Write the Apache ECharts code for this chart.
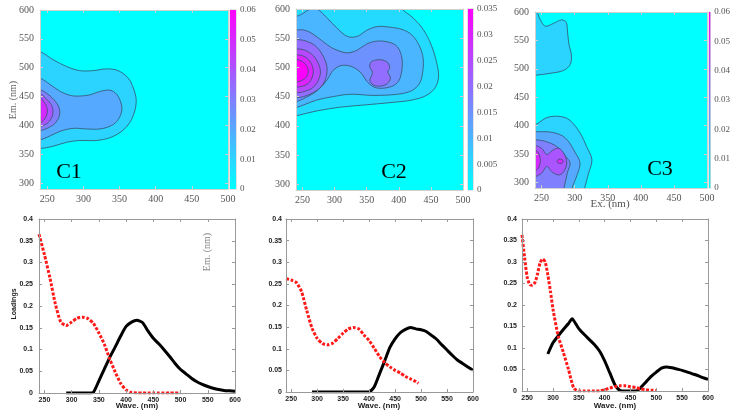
<!DOCTYPE html>
<html><head><meta charset="utf-8">
<script src="https://cdn.jsdelivr.net/npm/echarts@6/dist/echarts.min.js"></script>
<style>html,body{margin:0;padding:0;background:#fff}#c{width:730px;height:410px}</style>
</head><body><div id="c"></div>
<script>
// ---------- tick labels ----------
const exTicks = [250,300,350,400,450,500];
const emTicks = [300,350,400,450,500,550,600];
const waveTicks = [250,300,350,400,450,500,550,600];

// ---------- EEM contours: [Ex nm, Em nm] outlines, outer to inner ----------
const c1Levels = [0.01,0.02,0.03,0.04,0.05];
const c1L1 = [[230,528],[240,528],[258,514],[277,502],[295,495],[314,495],[332,498],[348,495],[362,482],[369,465],[373,445],[371,425],[364,405],[353,390],[337,379],[318,374],[295,374],[277,371],[258,364],[240,360],[230,360]];
const c1L2 = [[230,482],[240,482],[254,471],[268,459],[282,452],[295,451],[309,453],[323,459],[337,461],[346,454],[352,439],[353,425],[348,410],[339,400],[323,394],[304,394],[286,395],[268,390],[254,382],[240,375],[230,375]];
const c1L3 = [[230,462],[240,462],[250,455],[259,445],[266,432],[267,418],[261,404],[250,395],[240,391],[230,391]];
const c1L4 = [[230,455],[240,455],[248,447],[255,437],[258,426],[256,413],[249,403],[240,398],[230,398]];
const c1L5 = [[230,448],[240,448],[246,440],[250,429],[249,417],[245,409],[240,405],[230,405]];

const c2Levels = [0.005,0.01,0.015,0.02,0.02,0.025,0.03,0.035];
const c2L1 = [[230,612],[400,612],[405,600],[422,585],[438,565],[451,537],[459,508],[462,485],[457,466],[443,452],[420,444],[390,440],[350,436],[310,432],[275,426],[255,421],[240,417],[230,415]];
const c2L2 = [[230,585],[240,587],[250,592],[260,599],[268,602],[277,597],[289,584],[304,567],[320,553],[335,553],[351,564],[367,570],[385,569],[405,565],[420,556],[432,537],[438,515],[437,490],[432,472],[420,460],[398,454],[360,452],[325,454],[298,450],[272,444],[255,437],[240,431],[230,429]];
const c2L3 = [[230,564],[240,564],[252,564],[265,558],[280,546],[295,534],[310,527],[322,525],[336,530],[350,540],[366,545],[385,543],[398,535],[405,515],[404,490],[398,474],[385,466],[365,465],[352,474],[340,492],[325,502],[310,503],[298,495],[288,478],[275,462],[260,451],[240,441],[230,440]];
const c2L4a = [[230,548],[240,548],[256,545],[270,537],[281,522],[288,502],[287,484],[280,468],[267,457],[252,450],[240,448],[230,448]];
const c2L4b = [[356,508],[362,512],[372,513],[382,509],[386,500],[383,492],[387,482],[382,472],[372,468],[360,470],[355,478],[359,491],[355,500]];
const c2L5 = [[230,532],[240,532],[255,529],[267,520],[275,506],[278,492],[275,478],[267,466],[254,459],[240,456],[230,456]];
const c2L6 = [[230,522],[240,522],[254,518],[263,508],[267,494],[264,480],[256,470],[240,466],[230,466]];
const c2L7 = [[230,514],[240,514],[250,510],[257,502],[259,493],[256,483],[248,477],[240,475],[230,475]];

const c3Levels = [0.01,0.01,0.02,0.03,0.04,0.05,0.05];
const c3U1 = [[230,612],[242,612],[244,598],[250,582],[256,575],[268,580],[280,586],[287,582],[289,568],[291,545],[295,524],[293,507],[283,497],[263,492],[243,489],[230,488]];
const c3L1 = [[230,401],[240,401],[258,414],[278,416],[293,409],[308,387],[318,363],[326,340],[321,316],[315,290],[313,280],[230,280]];
const c3L2 = [[230,389],[240,389],[266,388],[286,378],[301,352],[308,334],[304,314],[296,290],[295,280],[230,280]];
const c3L3 = [[230,375],[240,375],[256,372],[273,363],[286,346],[293,334],[289,317],[284,290],[283,280],[230,280]];
const c3L4 = [[230,365],[240,365],[250,360],[258,349],[266,356],[276,360],[284,350],[288,336],[285,322],[277,313],[266,318],[258,328],[250,316],[240,310],[230,310]];
const c3L5a = [[230,357],[240,357],[245,352],[248,340],[246,327],[240,320],[230,320]];
const c3L5b = [[273,337],[275,340],[278,341],[281,340],[283,337],[281,334],[278,333],[275,334]];

// ---------- loadings ----------
const c1ExWave = [240,250,260,270,280,290,300,310,320,330,340,350,360,370,380,390,400,410,420,430,440,450,460,470,480,490,500];
const c1ExLoad = [0.365,0.318,0.265,0.205,0.163,0.155,0.163,0.172,0.174,0.171,0.160,0.138,0.112,0.078,0.048,0.022,0.007,0.001,0,0,0,0,0,0,0,0,0];
const c1EmWave = [290,300,310,320,330,340,350,360,370,380,390,400,410,420,430,440,450,460,470,480,490,500,510,520,530,540,550,560,570,580,590,600];
const c1EmLoad = [0,0,0,0,0,0.002,0.028,0.055,0.082,0.106,0.131,0.153,0.163,0.167,0.162,0.143,0.126,0.113,0.099,0.084,0.068,0.054,0.044,0.034,0.026,0.020,0.015,0.011,0.008,0.006,0.005,0.004];

const c2ExWave = [240,250,260,270,280,290,300,310,320,330,340,350,360,370,380,390,400,410,420,430,440,450,460,470,480,490,495];
const c2ExLoad = [0.262,0.259,0.253,0.232,0.188,0.148,0.124,0.112,0.109,0.113,0.124,0.136,0.146,0.149,0.146,0.132,0.119,0.101,0.082,0.068,0.058,0.050,0.044,0.036,0.030,0.024,0.020];
const c2EmWave = [290,300,310,320,330,340,350,360,370,380,390,400,410,420,430,440,450,460,470,480,490,500,510,520,530,540,550,560,570,580,590,600];
const c2EmLoad = [0,0,0,0,0,0,0,0,0,0,0,0,0.012,0.042,0.072,0.103,0.123,0.137,0.145,0.149,0.146,0.144,0.140,0.131,0.122,0.109,0.097,0.085,0.074,0.066,0.058,0.050];

const c3ExWave = [240,245,250,255,260,265,270,275,280,285,290,295,300,310,320,330,340,350,360,370,380,390,400,410,420,430,440,450,460,470,480,490,500];
const c3ExLoad = [0.363,0.310,0.265,0.247,0.246,0.252,0.272,0.298,0.307,0.300,0.270,0.232,0.190,0.128,0.090,0.050,0.007,0,0,0,0,0,0.003,0.007,0.010,0.012,0.012,0.010,0.008,0.005,0.003,0.002,0.001];
const c3EmWave = [290,300,310,320,330,337,340,350,360,370,380,390,400,410,420,430,440,450,460,470,480,490,500,510,520,530,540,550,560,570,580,590,600];
const c3EmLoad = [0.086,0.112,0.128,0.143,0.157,0.168,0.164,0.145,0.132,0.120,0.108,0.093,0.070,0.042,0.014,0.001,0,0,0,0.008,0.021,0.034,0.044,0.053,0.056,0.054,0.051,0.048,0.044,0.040,0.036,0.031,0.027];

// ---------- colour bars ----------
const cbMax = [0.06,0.035,0.06];
const cbStep = [0.01,0.005,0.01];

// ---------- build ----------
function cool(t){ t=Math.max(0,Math.min(1,t)); return 'rgb('+Math.round(255*t)+','+Math.round(255*(1-t))+',255)'; }
function zip(a,b){ return a.map((v,i)=>[v,b[i]]); }

const grids = [
  {left:40, top:10, width:188, height:179},
  {left:296, top:9, width:167, height:181},
  {left:535, top:12, width:172, height:176},
  {left:39, top:219, width:196, height:174},
  {left:286, top:219, width:187, height:173},
  {left:522, top:219, width:186, height:172},
  {left:230, top:10, width:6, height:179},
  {left:468, top:9, width:5, height:181},
  {left:709, top:12, width:5, height:176}
];
grids.forEach((g,i)=>{
  g.containLabel=false;
  if(i<3){ g.show=true; g.backgroundColor='#00ffff'; g.borderWidth=0; }
  if(i>=6){ g.show=true; g.borderColor='#c8c8c8'; g.borderWidth=1; }
});

const serifLbl = {fontFamily:'Liberation Serif', fontSize:10, color:'#555'};
const sansLbl = {fontFamily:'Liberation Sans', fontSize:7, fontWeight:'bold', color:'#222'};
const xAxes=[], yAxes=[];
function addAxes(gi, xr, yr, xt, yt, lbl, box, xMargin, yMargin){
  const tick = {show:true, inside:true, length:3, lineStyle:{color:box, width:1}};
  const line = {show:true, onZero:false, lineStyle:{color:box, width:1}};
  xAxes.push({gridIndex:gi, type:'value', min:xr[0], max:xr[1], position:'bottom', z:5,
    axisLine:line, axisTick:Object.assign({customValues:xt},tick), splitLine:{show:false},
    axisLabel:Object.assign({customValues:xt, margin:xMargin},lbl)});
  xAxes.push({gridIndex:gi, type:'value', min:xr[0], max:xr[1], position:'top', z:5,
    axisLine:line, axisTick:Object.assign({customValues:xt},tick), splitLine:{show:false},
    axisLabel:{show:false}});
  yAxes.push({gridIndex:gi, type:'value', min:yr[0], max:yr[1], position:'left', z:5,
    axisLine:line, axisTick:Object.assign({customValues:yt},tick), splitLine:{show:false},
    axisLabel:Object.assign({customValues:yt, margin:yMargin},lbl)});
  yAxes.push({gridIndex:gi, type:'value', min:yr[0], max:yr[1], position:'right', z:5,
    axisLine:line, axisTick:Object.assign({customValues:yt},tick), splitLine:{show:false},
    axisLabel:{show:false}});
}
const loadTicks=[0,0.05,0.1,0.15,0.2,0.25,0.3,0.35,0.4];
addAxes(0,[240,500],[290,600],exTicks,emTicks,serifLbl,'#d0d0d0',5,6);
addAxes(1,[240,500],[290,600],exTicks,emTicks,serifLbl,'#d0d0d0',5,6);
addAxes(2,[240,500],[290,600],exTicks,emTicks,serifLbl,'#d0d0d0',5,6);
addAxes(3,[240,600],[0,0.4],waveTicks,loadTicks,sansLbl,'#999',4,6);
addAxes(4,[240,600],[0,0.4],waveTicks,loadTicks,sansLbl,'#999',4,4);
addAxes(5,[240,600],[0,0.4],waveTicks,loadTicks,sansLbl,'#999',4,5);

const cbAxisBase = xAxes.length; // 12
for(let k=0;k<3;k++){
  xAxes.push({gridIndex:6+k, type:'value', min:0, max:1, show:false});
  yAxes.push({gridIndex:6+k, type:'value', min:0, max:cbMax[k], interval:cbStep[k], position:'right',
    axisLine:{show:false}, axisTick:{show:false}, splitLine:{show:false},
    axisLabel:{fontFamily:'Liberation Serif', fontSize:9, color:'#555', margin:4}});
}

const series=[];
function contour(gi, polys, levels, vmax){
  series.push({type:'custom', coordinateSystem:'cartesian2d', xAxisIndex:2*gi, yAxisIndex:2*gi,
    clip:true, silent:true, z:2, data: polys.map(p=>p[1]),
    renderItem:function(params, api){
      const k=params.dataIndex;
      const pts=polys[k].map(p=>api.coord(p));
      return {type:'polygon', shape:{points:pts, smooth:0.35},
        style:{fill:cool(levels[k]/vmax), stroke:'#35506a', lineWidth:0.8}};
    }});
}
contour(0,[c1L1,c1L2,c1L3,c1L4,c1L5],c1Levels,0.06);
contour(1,[c2L1,c2L2,c2L3,c2L4a,c2L4b,c2L5,c2L6,c2L7],c2Levels,0.035);
contour(2,[c3U1,c3L1,c3L2,c3L3,c3L4,c3L5a,c3L5b],c3Levels,0.06);

for(let k=0;k<3;k++){
  const vmax=cbMax[k];
  series.push({type:'custom', coordinateSystem:'cartesian2d', xAxisIndex:cbAxisBase+k, yAxisIndex:cbAxisBase+k, silent:true,
    data:[[0,0]],
    renderItem:function(params, api){
      const a=api.coord([0,vmax]), b=api.coord([1,0]);
      return {type:'rect', shape:{x:a[0], y:a[1], width:b[0]-a[0], height:b[1]-a[1]},
        style:{fill:{type:'linear',x:0,y:0,x2:0,y2:1,colorStops:[{offset:0,color:'#ff00ff'},{offset:1,color:'#00ffff'}]}}};
    }});
}

function loadPair(gi, exW, exL, emW, emL){
  series.push({type:'line', xAxisIndex:2*gi, yAxisIndex:2*gi, data:zip(emW,emL), showSymbol:false, smooth:0.2,
    silent:true, lineStyle:{color:'#000', width:3}, z:3});
  series.push({type:'line', xAxisIndex:2*gi, yAxisIndex:2*gi, data:zip(exW,exL), showSymbol:false, smooth:0.2,
    silent:true, lineStyle:{color:'#ff1a1a', width:3, type:[3,1.6], cap:'butt'}, z:4});
}
loadPair(3,c1ExWave,c1ExLoad,c1EmWave,c1EmLoad);
loadPair(4,c2ExWave,c2ExLoad,c2EmWave,c2EmLoad);
loadPair(5,c3ExWave,c3ExLoad,c3EmWave,c3EmLoad);

function txt(t,x,y,size,opts){
  return {type:'text', x:x, y:y, z:10, silent:true,
    style:Object.assign({text:t, align:'center', verticalAlign:'middle', fontSize:size,
      fontFamily:'Liberation Serif', fill:'#000'}, opts||{})};
}
const graphics=[
  txt('C1',69,172,22),
  txt('C2',394,172,22),
  txt('C3',660,169,22),
  Object.assign(txt('Em. (nm)',13,100,10,{fill:'#666'}),{rotation:Math.PI/2}),
  txt('Ex. (nm)',610,204,11,{fill:'#555'}),
  Object.assign(txt('Em. (nm)',207,252,10,{fill:'#888'}),{rotation:Math.PI/2}),
  Object.assign(txt('Loadings',14,304,7,{fontFamily:'Liberation Sans', fontWeight:'bold', fill:'#222'}),{rotation:Math.PI/2}),
  txt('Wave. (nm)',137,406,8,{fontFamily:'Liberation Sans', fontWeight:'bold', fill:'#222'}),
  txt('Wave. (nm)',379,406,8,{fontFamily:'Liberation Sans', fontWeight:'bold', fill:'#222'}),
  txt('Wave. (nm)',615,406,8,{fontFamily:'Liberation Sans', fontWeight:'bold', fill:'#222'})
];

const chart = echarts.init(document.getElementById('c'), null, {renderer:'canvas'});
chart.setOption({animation:false, backgroundColor:'#fff', grid:grids, xAxis:xAxes, yAxis:yAxes, series:series, graphic:graphics});
</script></body></html>
